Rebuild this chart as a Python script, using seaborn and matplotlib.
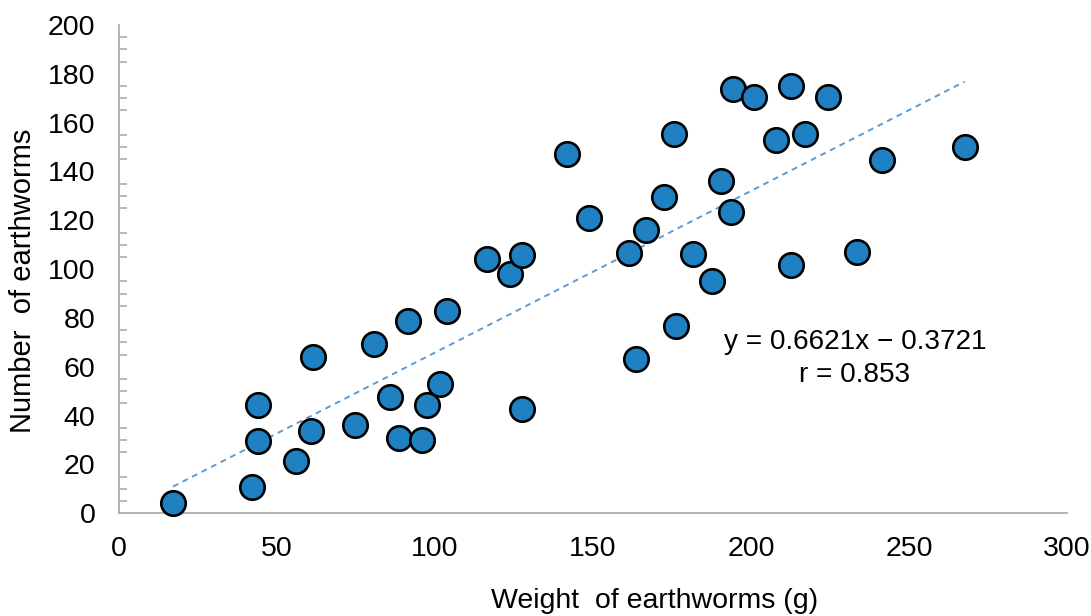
import numpy as np
import pandas as pd
import matplotlib
matplotlib.use("Agg")
import matplotlib.pyplot as plt
import seaborn as sns
from matplotlib.ticker import MultipleLocator

# ---------- datos ----------
weight_g = [17.1, 42.1, 44.0, 44.0, 56.0, 60.8, 61.4, 74.7, 80.7, 85.8,
            88.7, 91.5, 96.0, 97.5, 101.6, 103.9, 116.5, 123.8, 127.6, 127.6,
            141.9, 148.8, 161.5, 163.7, 166.9, 172.6, 175.7, 176.4, 181.8, 187.8,
            190.6, 193.8, 194.4, 200.8, 208.0, 212.5, 212.5, 217.2, 224.5, 233.7,
            241.3, 267.6]
n_worms = [4.2, 10.8, 44.4, 29.6, 21.4, 33.7, 64.0, 36.2, 69.4, 47.7,
           30.9, 78.8, 30.0, 44.4, 53.0, 82.9, 104.1, 98.0, 106.0, 42.8,
           147.2, 121.0, 106.8, 63.1, 116.1, 129.6, 155.3, 76.7, 106.2, 95.2,
           136.2, 123.3, 173.8, 170.5, 153.0, 175.0, 101.7, 155.5, 170.7, 107.0,
           144.7, 150.0]
slope, intercept, r_val = 0.6621, -0.3721, 0.853

df = pd.DataFrame({"peso": weight_g, "numero": n_worms})

# ---------- grafico ----------
sns.set_theme(style="white")
plt.rcParams['font.family'] = ['Liberation Sans', 'DejaVu Sans']
plt.rcParams['text.color'] = 'black'

W, H = 1091, 616
fig = plt.figure(figsize=(W / 100, H / 100), dpi=100)
ax = fig.add_axes([119 / W, 1 - 513.3 / H, (1067 - 119) / W, (513.3 - 25) / H])

xs = np.array([df.peso.min(), df.peso.max()])
ax.plot(xs, slope * xs + intercept, color='#5B9BD5', linestyle=(0, (3, 2.5)),
        linewidth=1.4, zorder=1)
sns.scatterplot(data=df, x="peso", y="numero", ax=ax, s=310, color='#1F80C2',
                edgecolor='black', linewidth=1.9, zorder=3, clip_on=False)

ax.set_xlim(0, 300); ax.set_ylim(0, 200)
ax.xaxis.set_major_locator(MultipleLocator(50))
ax.yaxis.set_major_locator(MultipleLocator(20))
ax.yaxis.set_minor_locator(MultipleLocator(5))
for s in ['top', 'right']: ax.spines[s].set_visible(False)
for s in ['left', 'bottom']:
    ax.spines[s].set_color('#A6A6A6'); ax.spines[s].set_linewidth(1.2)
ax.tick_params(axis='both', which='major', direction='in', length=6.5, width=1.1,
               color='#A6A6A6', labelsize=20.5, labelcolor='black')
ax.tick_params(axis='x', pad=16)
ax.tick_params(axis='y', pad=17)
ax.tick_params(axis='y', which='minor', direction='in', length=6, width=1.1,
               color='#A6A6A6', left=True)
ax.set_xlabel(''); ax.set_ylabel('')

# etiquetas de ejes (posicion como en la original)
fig.text(655 / W, (H - 608) / H, 'Weight  of earthworms (g)', fontsize=20.5,
         ha='center', va='baseline', color='black')
fig.text(23 / W, 1 - 281 / H, 'Number  of earthworms', fontsize=21,
         ha='center', va='center', rotation=90, color='black')

# ecuacion de la recta
fig.text(855 / W, 1 - 342 / H, f'y = {slope}x \u2212 {abs(intercept)}',
         fontsize=20.2, ha='center', va='center', color='black')
fig.text(855 / W, 1 - 375 / H, f'r = {r_val}', fontsize=20.2,
         ha='center', va='center', color='black')

fig.savefig('out.png', dpi=100)
plt.close(fig)
